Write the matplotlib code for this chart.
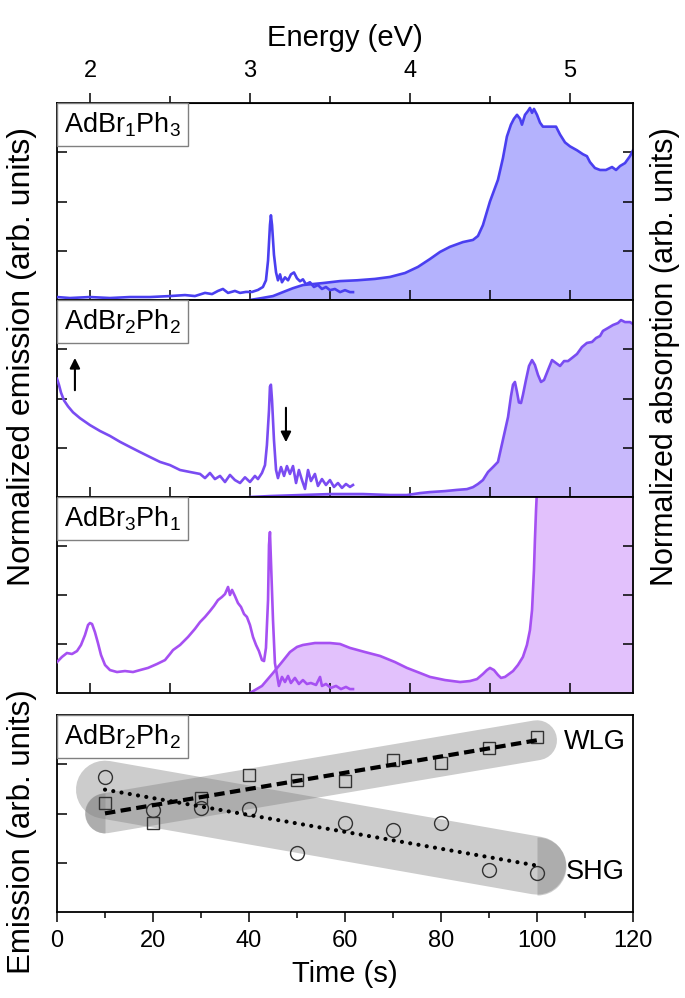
import numpy as np
import matplotlib
matplotlib.use("Agg")
import matplotlib.pyplot as plt

plt.rcParams['font.family'] = ['Liberation Sans', 'DejaVu Sans']
plt.rcParams['mathtext.fontset'] = 'custom'
plt.rcParams['mathtext.rm'] = 'Liberation Sans'
plt.rcParams['mathtext.it'] = 'Liberation Sans:italic'

# --- widma: energia (eV) i znormalizowana intensywnosc ---
samples = ['AdBr$_1$Ph$_3$', 'AdBr$_2$Ph$_2$', 'AdBr$_3$Ph$_1$']
line_colors = ['#4a3ff0', '#7a4cf2', '#a650f2']
fill_colors = ['#b4b2fd', '#c8b9fc', '#e2c1fc']

em1_E = [1.794, 1.875, 2.000, 2.125, 2.25, 2.375, 2.50, 2.594, 2.656, 2.719, 2.763, 2.800, 2.831,
         2.863, 2.906, 2.938, 2.975, 3.013, 3.05, 3.081, 3.100, 3.113, 3.125, 3.131, 3.138, 3.15,
         3.163, 3.175, 3.188, 3.2, 3.219, 3.238, 3.256, 3.275, 3.294, 3.313, 3.331, 3.35, 3.375,
         3.4, 3.425, 3.45, 3.475, 3.5, 3.531, 3.563, 3.594, 3.625, 3.644]
em1_I = [0.015, 0.010, 0.015, 0.010, 0.015, 0.015, 0.020, 0.025, 0.020, 0.036, 0.030, 0.046, 0.056,
         0.036, 0.046, 0.036, 0.041, 0.041, 0.051, 0.066, 0.10, 0.20, 0.38, 0.43, 0.38, 0.23,
         0.14, 0.10, 0.13, 0.09, 0.115, 0.10, 0.13, 0.14, 0.11, 0.095, 0.105, 0.08, 0.09,
         0.066, 0.076, 0.056, 0.066, 0.05, 0.056, 0.04, 0.05, 0.04, 0.04]

ab1_E = [3.0, 3.075, 3.144, 3.206, 3.269, 3.331, 3.394, 3.456, 3.563, 3.669, 3.781, 3.875, 3.969,
         4.05, 4.125, 4.188, 4.25, 4.331, 4.394, 4.425, 4.456, 4.5, 4.55, 4.581, 4.606, 4.631,
         4.65, 4.669, 4.688, 4.7, 4.719, 4.738, 4.75, 4.763, 4.775, 4.794, 4.813, 4.831, 4.875,
         4.913, 4.938, 4.969, 5.0, 5.044, 5.081, 5.106, 5.125, 5.156, 5.188, 5.225, 5.263, 5.288,
         5.313, 5.344, 5.375, 5.394]
ab1_I = [0.0, 0.01, 0.02, 0.04, 0.06, 0.076, 0.081, 0.086, 0.096, 0.10, 0.107, 0.117, 0.137,
         0.168, 0.208, 0.244, 0.27, 0.294, 0.305, 0.325, 0.38, 0.50, 0.61, 0.72, 0.83, 0.89,
         0.92, 0.94, 0.92, 0.89, 0.94, 0.96, 0.975, 0.95, 0.97, 0.94, 0.90, 0.88, 0.88,
         0.88, 0.84, 0.80, 0.78, 0.76, 0.74, 0.73, 0.70, 0.67, 0.66, 0.66, 0.675, 0.66,
         0.68, 0.695, 0.73, 0.76]

em2_E = [1.794, 1.806, 1.819, 1.838, 1.863, 1.894, 1.938, 2.0, 2.063, 2.125, 2.188, 2.25, 2.313,
         2.375, 2.438, 2.5, 2.563, 2.625, 2.688, 2.719, 2.75, 2.781, 2.813, 2.844, 2.875, 2.906,
         2.938, 2.969, 3.0, 3.031, 3.05, 3.075, 3.094, 3.106, 3.119, 3.125, 3.131, 3.138, 3.15,
         3.163, 3.175, 3.194, 3.213, 3.231, 3.25, 3.269, 3.288, 3.306, 3.325, 3.344, 3.363,
         3.381, 3.406, 3.425, 3.45, 3.475, 3.5, 3.525, 3.55, 3.575, 3.6, 3.625, 3.644]
em2_I = [0.60, 0.57, 0.53, 0.49, 0.46, 0.43, 0.40, 0.365, 0.335, 0.31, 0.28, 0.254, 0.228,
         0.203, 0.178, 0.162, 0.137, 0.127, 0.117, 0.096, 0.122, 0.091, 0.107, 0.076, 0.112, 0.086,
         0.071, 0.10, 0.076, 0.107, 0.091, 0.122, 0.162, 0.264, 0.44, 0.56, 0.57, 0.49, 0.29,
         0.137, 0.096, 0.152, 0.107, 0.157, 0.117, 0.157, 0.071, 0.137, 0.086, 0.041, 0.137,
         0.081, 0.117, 0.056, 0.091, 0.061, 0.086, 0.051, 0.071, 0.046, 0.066, 0.051, 0.061]

ab2_E = [3.0, 3.131, 3.319, 3.506, 3.706, 3.875, 3.981, 4.063, 4.125, 4.219, 4.294, 4.356, 4.394,
         4.425, 4.456, 4.488, 4.519, 4.55, 4.581, 4.613, 4.631, 4.644, 4.656, 4.669, 4.681, 4.694,
         4.706, 4.725, 4.744, 4.763, 4.781, 4.8, 4.819, 4.838, 4.863, 4.888, 4.913, 4.938, 4.963,
         4.988, 5.013, 5.044, 5.075, 5.106, 5.138, 5.163, 5.188, 5.206, 5.238, 5.269, 5.3, 5.319,
         5.344, 5.375, 5.394]
ab2_I = [0.0, 0.005, 0.01, 0.015, 0.015, 0.01, 0.01, 0.02, 0.025, 0.03, 0.036, 0.04, 0.05,
         0.066, 0.086, 0.127, 0.152, 0.178, 0.29, 0.406, 0.51, 0.57, 0.584, 0.533, 0.48, 0.477,
         0.518, 0.594, 0.665, 0.695, 0.67, 0.62, 0.584, 0.594, 0.645, 0.695, 0.68, 0.665, 0.69,
         0.69, 0.706, 0.726, 0.761, 0.782, 0.787, 0.807, 0.817, 0.843, 0.858, 0.873, 0.883, 0.898,
         0.888, 0.888, 0.878]

em3_E = [1.794, 1.825, 1.856, 1.888, 1.919, 1.944, 1.969, 1.988, 2.0, 2.013, 2.031, 2.05, 2.069,
         2.094, 2.125, 2.169, 2.219, 2.269, 2.313, 2.363, 2.419, 2.469, 2.5, 2.519, 2.563, 2.613,
         2.656, 2.688, 2.719, 2.75, 2.775, 2.8, 2.825, 2.844, 2.863, 2.875, 2.888, 2.906, 2.925,
         2.944, 2.963, 2.981, 3.0, 3.019, 3.038, 3.056, 3.075, 3.088, 3.1, 3.113, 3.119, 3.125,
         3.131, 3.144, 3.156, 3.169, 3.181, 3.2, 3.219, 3.238, 3.256, 3.281, 3.306, 3.331, 3.356,
         3.381, 3.413, 3.438, 3.45, 3.475, 3.506, 3.538, 3.569, 3.6, 3.625, 3.644]
em3_I = [0.158, 0.184, 0.204, 0.199, 0.214, 0.245, 0.296, 0.347, 0.357, 0.352, 0.311, 0.255, 0.194,
         0.143, 0.117, 0.107, 0.112, 0.107, 0.117, 0.128, 0.148, 0.168, 0.199, 0.219, 0.245, 0.286,
         0.327, 0.362, 0.388, 0.418, 0.444, 0.474, 0.49, 0.505, 0.541, 0.50, 0.526, 0.495, 0.459,
         0.439, 0.403, 0.388, 0.347, 0.286, 0.245, 0.214, 0.168, 0.163, 0.23, 0.474, 0.755, 0.821,
         0.679, 0.372, 0.153, 0.092, 0.036, 0.082, 0.056, 0.087, 0.051, 0.077, 0.046, 0.066, 0.046,
         0.051, 0.041, 0.082, 0.036, 0.046, 0.026, 0.036, 0.020, 0.031, 0.020, 0.020]

ab3_E = [3.0, 3.075, 3.144, 3.2, 3.25, 3.294, 3.331, 3.406, 3.5, 3.563, 3.625, 3.719, 3.813,
         3.906, 3.981, 4.063, 4.125, 4.219, 4.313, 4.375, 4.419, 4.456, 4.481, 4.5, 4.525, 4.55,
         4.569, 4.594, 4.619, 4.644, 4.675, 4.706, 4.731, 4.75, 4.763, 4.775, 4.781, 4.788, 4.794,
         4.8, 4.85, 5.394]
ab3_I = [0.0, 0.036, 0.102, 0.158, 0.209, 0.235, 0.245, 0.255, 0.255, 0.25, 0.23, 0.209, 0.189,
         0.158, 0.128, 0.102, 0.082, 0.066, 0.056, 0.061, 0.071, 0.097, 0.117, 0.128, 0.117, 0.092,
         0.077, 0.082, 0.097, 0.112, 0.143, 0.184, 0.245, 0.321, 0.423, 0.628, 0.781, 0.934, 1.036,
         1.14, 1.3, 1.3]

emission = [(em1_E, em1_I), (em2_E, em2_I), (em3_E, em3_I)]
absorption = [(ab1_E, ab1_I), (ab2_E, ab2_I), (ab3_E, ab3_I)]

# --- pomiar w czasie (AdBr2Ph2) ---
time_s = [10, 20, 30, 40, 50, 60, 70, 80, 90, 100]
wlg = [2.21, 1.81, 2.31, 2.78, 2.68, 2.66, 3.09, 3.03, 3.33, 3.55]
shg = [2.74, 2.07, 2.11, 2.09, 1.20, 1.81, 1.66, 1.81, 0.85, 0.79]

E_MIN, E_MAX = 1.794, 5.394

fig = plt.figure(figsize=(6.85, 9.98), dpi=100)
W_PX, H_PX = 685, 998
left, width = 57 / W_PX, 576 / W_PX


def panel(top_px, bottom_px):
    return fig.add_axes([left, 1 - bottom_px / H_PX, width, (bottom_px - top_px) / H_PX])


def sample_box(ax, text):
    fs = 19.5
    pad = 0.26
    ax.annotate(text, xy=(0, 1), xycoords='axes fraction',
                xytext=(pad * fs, -pad * fs), textcoords='offset points',
                ha='left', va='top', fontsize=fs, zorder=10,
                bbox=dict(boxstyle=f'square,pad={pad}', fc='white', ec='#808080', lw=1.0))


edges = [(103, 300), (300, 497), (497, 693)]
spec_axes = []
for i, (top, bot) in enumerate(edges):
    ax = panel(top, bot)
    aE, aI = absorption[i]
    eE, eI = emission[i]
    ax.fill_between(aE, 0, aI, color=fill_colors[i], lw=0, zorder=1)
    ax.plot(aE, aI, color=line_colors[i], lw=1.9, zorder=2)
    ax.plot(eE, eI, color=line_colors[i], lw=1.9, zorder=3)
    ax.set_xlim(E_MIN, E_MAX)
    ax.set_ylim(0, 1)
    ax.set_xticks(np.arange(2.0, 5.5, 0.5))
    ax.set_yticks([0.25, 0.5, 0.75])
    ax.tick_params(direction='in', length=7, width=1.1, labelbottom=False, labelleft=False,
                   right=True, top=False)
    for s in ax.spines.values():
        s.set_linewidth(1.3)
    sample_box(ax, samples[i])
    spec_axes.append(ax)

# strzalki w panelu AdBr2Ph2
ax2 = spec_axes[1]
ax2.annotate('', xy=(1.906, 0.72), xytext=(1.906, 0.528),
             arrowprops=dict(arrowstyle='-|>', color='k', lw=1.5, mutation_scale=15))
ax2.annotate('', xy=(3.225, 0.264), xytext=(3.225, 0.467),
             arrowprops=dict(arrowstyle='-|>', color='k', lw=1.5, mutation_scale=15))

# gorna os energii
top_ax = spec_axes[0].secondary_xaxis('top')
top_ax.set_xticks([2, 3, 4, 5])
top_ax.set_xticks([2.5, 3.5, 4.5], minor=True)
top_ax.tick_params(which='major', direction='out', length=7, width=1.1, labelsize=17, pad=8)
top_ax.tick_params(which='minor', direction='out', length=5, width=1.1)
top_ax.set_xlabel('Energy (eV)', fontsize=21, labelpad=10)

# panel czasowy
ax4 = panel(715, 912)
t = np.array(time_s)
w_fit = np.polyval(np.polyfit(t, wlg, 1), [10, 100])
s_fit = np.polyval(np.polyfit(t, shg, 1), [10, 100])

ax4.plot([10, 100], s_fit, color='#808080', alpha=0.4, lw=41.8, solid_capstyle='round', zorder=1)
ax4.plot([10, 100], w_fit, color='#808080', alpha=0.4, lw=28.8, solid_capstyle='round', zorder=1)
ax4.plot([100], [s_fit[1]], ls='none', marker='o', ms=41.8, fillstyle='right',
         mfc='#808080', markerfacecoloralt='none', mec='none', alpha=0.4, zorder=1)
ax4.plot([10], [w_fit[0]], ls='none', marker='o', ms=28.8, fillstyle='left',
         mfc='#808080', markerfacecoloralt='none', mec='none', alpha=0.4, zorder=1)

ax4.plot(time_s, wlg, ls='none', marker='s', ms=9, mfc='none', mec='#333333', mew=1.0, zorder=3)
ax4.plot(time_s, shg, ls='none', marker='o', ms=10, mfc='none', mec='#333333', mew=1.0, zorder=3)
ax4.plot([10, 100], w_fit, color='k', lw=3.0, ls=(0, (2.5, 1.3)), zorder=4)
ax4.plot([10, 100], s_fit, color='k', lw=3.0, ls=(0, (0.01, 2.0)), dash_capstyle='round', zorder=4)

ax4.text(105.5, w_fit[1] - 0.04, 'WLG', fontsize=19.5, ha='left', va='center')
ax4.text(106.0, s_fit[1] - 0.13, 'SHG', fontsize=19.5, ha='left', va='center')

ax4.set_xlim(0, 120)
ax4.set_ylim(0, 4)
ax4.set_xticks(np.arange(0, 121, 20))
ax4.set_xticks(np.arange(10, 120, 20), minor=True)
ax4.set_yticks([1, 2, 3])
ax4.tick_params(axis='x', which='major', direction='out', length=7, width=1.1, labelsize=17, pad=6)
ax4.tick_params(axis='x', which='minor', direction='out', length=4, width=1.1)
ax4.tick_params(axis='y', direction='in', length=7, width=1.1, labelleft=False)
for s in ax4.spines.values():
    s.set_linewidth(1.3)
ax4.set_xlabel('Time (s)', fontsize=21, labelpad=6)
sample_box(ax4, 'AdBr$_2$Ph$_2$')

fig.text(22 / W_PX, 1 - 357 / H_PX, 'Normalized emission (arb. units)', rotation=90,
         fontsize=23, ha='center', va='center')
fig.text(665 / W_PX, 1 - 357 / H_PX, 'Normalized absorption (arb. units)', rotation=90,
         fontsize=22, ha='center', va='center')
fig.text(22 / W_PX, 1 - 832 / H_PX, 'Emission (arb. units)', rotation=90,
         fontsize=22.5, ha='center', va='center')

fig.savefig('out.png', dpi=100)
